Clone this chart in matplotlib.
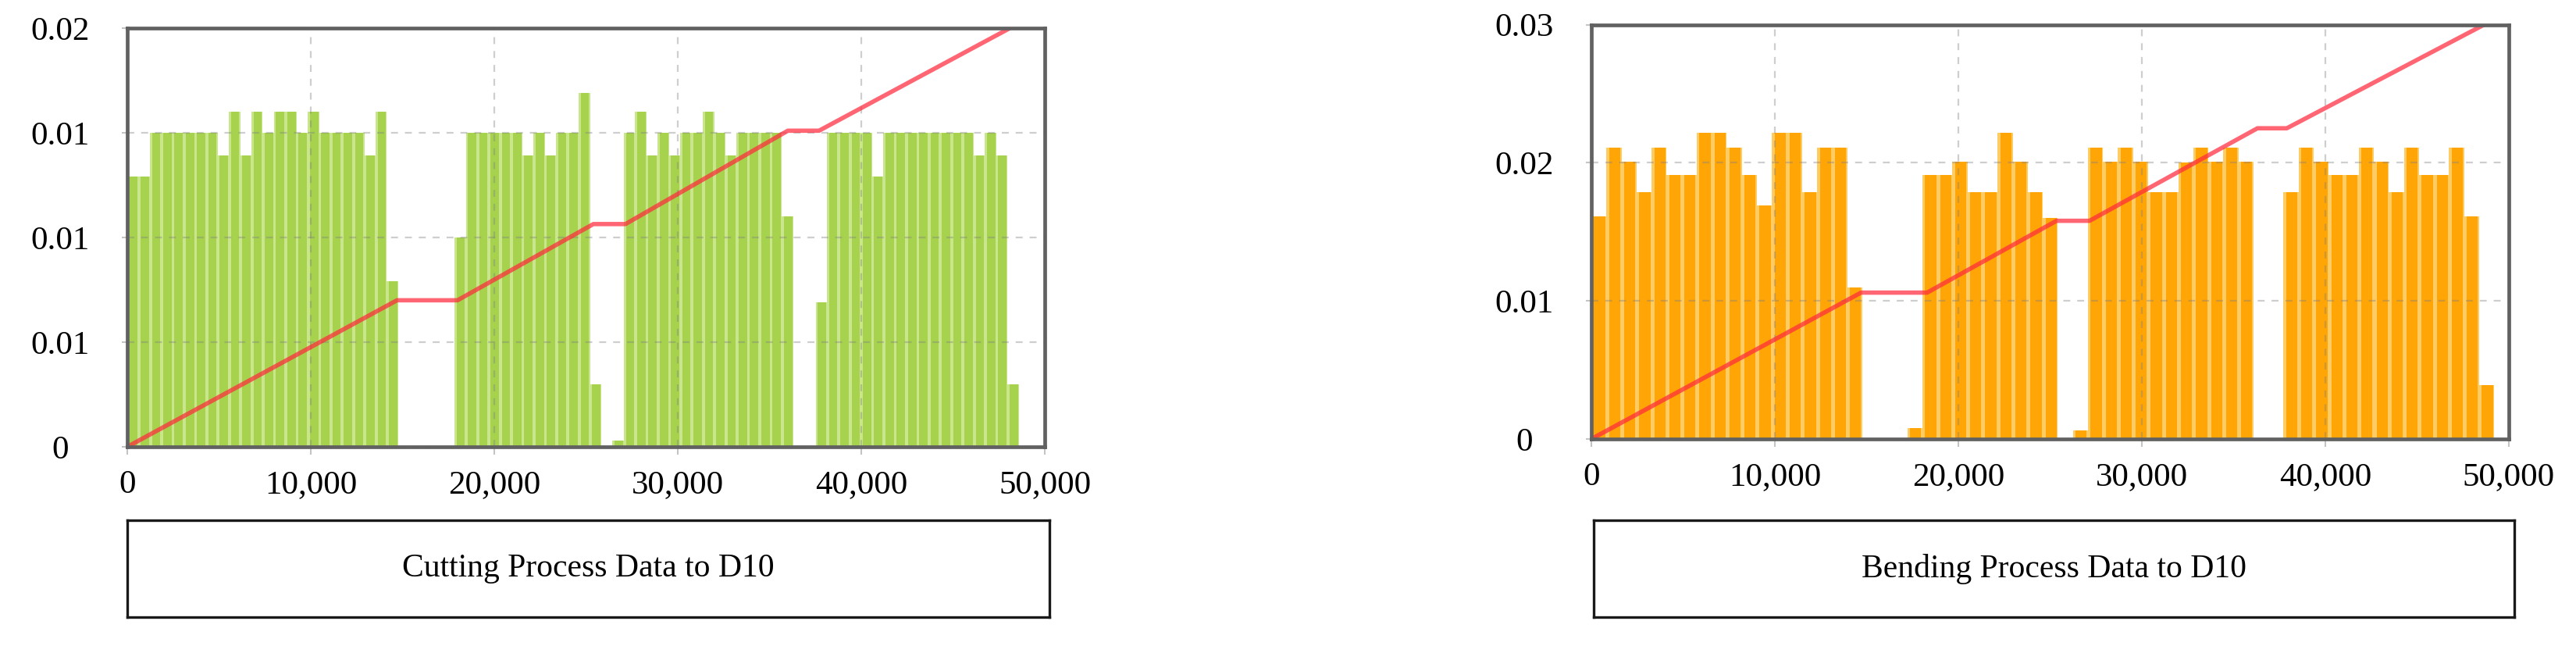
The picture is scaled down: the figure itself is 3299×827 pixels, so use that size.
import numpy as np
import matplotlib
matplotlib.use("Agg")
import matplotlib.pyplot as plt

# ---------------- data ----------------
cut_bin_width = 615
cut_heights = [
    0.0129, 0.0129, 0.0150, 0.0150, 0.0150, 0.0150, 0.0150, 0.0150, 0.0139, 0.0160,
    0.0139, 0.0160, 0.0150, 0.0160, 0.0160, 0.0150, 0.0160, 0.0150, 0.0150, 0.0150,
    0.0150, 0.0139, 0.0160, 0.0079, 0.0, 0.0, 0.0, 0.0, 0.0, 0.0100,
    0.0150, 0.0150, 0.0150, 0.0150, 0.0150, 0.0139, 0.0150, 0.0139, 0.0150, 0.0150,
    0.0169, 0.0030, 0.0, 0.0003, 0.0150, 0.0160, 0.0139, 0.0150, 0.0139, 0.0150,
    0.0150, 0.0160, 0.0150, 0.0139, 0.0150, 0.0150, 0.0150, 0.0150, 0.0110, 0.0,
    0.0, 0.0069, 0.0150, 0.0150, 0.0150, 0.0150, 0.0129, 0.0150, 0.0150, 0.0150,
    0.0150, 0.0150, 0.0150, 0.0150, 0.0150, 0.0139, 0.0150, 0.0139, 0.0030,
]
cut_line_x = [0, 14700, 18000, 25400, 27150, 36000, 37700, 48100]
cut_line_y = [0, 0.0070, 0.0070, 0.01064, 0.01064, 0.0151, 0.0151, 0.0200]
cut_yticks = [0, 0.005, 0.01, 0.015, 0.02]
cut_ytick_labels = ["0", "0.01", "0.01", "0.01", "0.02"]
cut_title = "Cutting Process Data to D10"

bend_bin_width = 820
bend_heights = [
    0.0161, 0.0211, 0.0201, 0.0179, 0.0211, 0.0191, 0.0191, 0.0222, 0.0222, 0.0211,
    0.0191, 0.0169, 0.0222, 0.0222, 0.0179, 0.0211, 0.0211, 0.0110, 0.0, 0.0,
    0.0, 0.0008, 0.0191, 0.0191, 0.0201, 0.0179, 0.0179, 0.0222, 0.0201, 0.0179,
    0.0160, 0.0, 0.0006, 0.0211, 0.0201, 0.0211, 0.0201, 0.0179, 0.0179, 0.0200,
    0.0211, 0.0201, 0.0211, 0.0201, 0.0, 0.0, 0.0179, 0.0211, 0.0201, 0.0191,
    0.0191, 0.0211, 0.0201, 0.0179, 0.0211, 0.0191, 0.0191, 0.0211, 0.0161, 0.0039,
]
bend_line_x = [0, 14700, 18300, 25350, 27150, 36300, 37900, 48650]
bend_line_y = [0, 0.0106, 0.0106, 0.0158, 0.0158, 0.0225, 0.0225, 0.0300]
bend_yticks = [0, 0.01, 0.02, 0.03]
bend_ytick_labels = ["0", "0.01", "0.02", "0.03"]
bend_title = "Bending Process Data to D10"

xticks = [0, 10000, 20000, 30000, 40000, 50000]
xtick_labels = ["0", "10,000", "20,000", "30,000", "40,000", "50,000"]

# ---------------- style ----------------
W, H = 3299, 827
fig = plt.figure(figsize=(W / 100, H / 100), dpi=100)
FONT = "Liberation Serif"


def fx(px):
    return px / W


def fy(py):
    return 1 - py / H


def draw_panel(rect, heights, bw, main_c, light_c, lx, ly, ymax, yt, ytl):
    ax = fig.add_axes(rect)
    n = len(heights)
    x = np.arange(n) * bw
    ax.bar(x, heights, width=bw, align="edge", color=light_c, linewidth=0, zorder=1)
    ax.bar(x + 0.55 * bw, heights, width=0.74 * bw, align="center",
           color=main_c, linewidth=0, zorder=1.1)
    ax.plot(lx, ly, color="#ff2a3c", alpha=0.72, lw=4.0, zorder=5,
            solid_joinstyle="round", solid_capstyle="round")
    ax.set_xlim(0, 50000)
    ax.set_ylim(0, ymax)
    ax.set_xticks(xticks)
    ax.set_xticklabels(xtick_labels, fontsize=31, family=FONT)
    ax.set_yticks(yt)
    ax.set_yticklabels(ytl, fontsize=31, family=FONT, ha="center")
    ax.tick_params(axis="x", length=7, width=1.5, color="#c4c4c4", pad=14)
    ax.tick_params(axis="y", length=5, width=1.5, color="#c4c4c4", pad=57)
    ax.set_axisbelow(False)
    ax.grid(True, color="#808080", alpha=0.38, linestyle=(0, (4, 4)), lw=1.6)
    for s in ax.spines.values():
        s.set_color("#616161")
        s.set_linewidth(3.4)
        s.set_zorder(6)
    return ax


def draw_box(x0, x1, y0, y1, text):
    bx = fig.add_axes([fx(x0), fy(y1), fx(x1 - x0), (y1 - y0) / H])
    bx.set_xticks([])
    bx.set_yticks([])
    for s in bx.spines.values():
        s.set_color("#1a1a1a")
        s.set_linewidth(2.4)
    bx.text(0.5, 0.5, text, ha="center", va="center", fontsize=30,
            family=FONT, transform=bx.transAxes)


draw_panel([fx(163), fy(572), fx(1338 - 163), (572 - 36) / H],
           cut_heights, cut_bin_width, "#a6d24e", "#c9e68c",
           cut_line_x, cut_line_y, 0.02, cut_yticks, cut_ytick_labels)
draw_panel([fx(2038), fy(562), fx(3213 - 2038), (562 - 31.6) / H],
           bend_heights, bend_bin_width, "#ffa506", "#ffcb63",
           bend_line_x, bend_line_y, 0.03, bend_yticks, bend_ytick_labels)

draw_box(163, 1344, 666, 790, cut_title)
draw_box(2041, 3220, 666, 790, bend_title)

fig.savefig("out.png", dpi=100)
